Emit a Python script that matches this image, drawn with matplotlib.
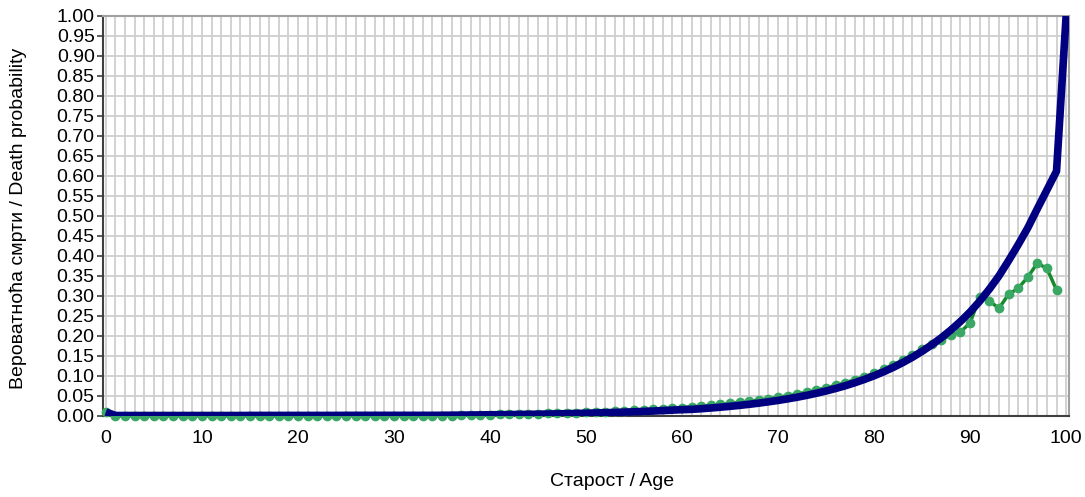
import numpy as np
import matplotlib.pyplot as plt
from matplotlib.ticker import MultipleLocator

plt.rcParams['font.family'] = ['Liberation Sans Narrow', 'Liberation Sans', 'DejaVu Sans']

# ages 0..100
ages = list(range(0, 101))

# fitted death probability (blue)
fitted = ([0.010]
          + [0.0012] * 14            # 1-14
          + [0.0014] * 10            # 15-24
          + [0.0016] * 10            # 25-34
          + [0.0018, 0.0020, 0.0022, 0.0024, 0.0027]   # 35-39
          + [0.0030, 0.0032, 0.0035, 0.0038, 0.0041, 0.0045, 0.0049, 0.0053, 0.0058, 0.0063,   # 40-49
             0.0069, 0.0075, 0.0082, 0.0089, 0.0097, 0.0105, 0.0114, 0.0124, 0.0135, 0.0147,   # 50-59
             0.0158, 0.0166, 0.0182, 0.0200, 0.0220, 0.0242, 0.0266, 0.0293, 0.0322, 0.0354,   # 60-69
             0.0389, 0.0428, 0.0470, 0.0517, 0.0569, 0.0625, 0.0688, 0.0756, 0.0832, 0.0915,   # 70-79
             0.1006, 0.1106, 0.1216, 0.1337, 0.1470, 0.1617, 0.1778, 0.1955, 0.2150, 0.2364,   # 80-89
             0.2600, 0.2870, 0.3170, 0.3500, 0.3880, 0.4280, 0.4700, 0.5180, 0.5650, 0.6120,   # 90-99
             1.0000])

# observed death probability (green), ages 0..99
observed = ([0.010]
            + [0.0003] * 19          # 1-19
            + [0.0006] * 15          # 20-34
            + [0.0010, 0.0012, 0.0015, 0.0020, 0.0028]   # 35-39
            + [0.0035, 0.0040, 0.0045, 0.0050, 0.0055, 0.0060, 0.0066, 0.0072, 0.0079, 0.0086,   # 40-49
               0.0094, 0.0102, 0.0111, 0.0120, 0.0131, 0.0142, 0.0154, 0.0167, 0.0181, 0.0196,   # 50-59
               0.0212, 0.0229, 0.0247, 0.0268, 0.0289, 0.0313, 0.0340, 0.0368, 0.0399, 0.0432,   # 60-69
               0.0468, 0.0508, 0.0552, 0.0599, 0.0650, 0.0705, 0.0766, 0.0833, 0.0905, 0.0985,   # 70-79
               0.1065, 0.1165, 0.1280, 0.1400, 0.1520, 0.1670, 0.1810, 0.1900, 0.2030, 0.2100,   # 80-89
               0.2330, 0.2970, 0.2880, 0.2690, 0.3040, 0.3190, 0.3470, 0.3820, 0.3690, 0.3150])  # 90-99

fig = plt.figure(figsize=(10.85, 4.97), dpi=100)
ax = fig.add_axes([103 / 1085, 1 - 416 / 497, 966 / 1085, 400 / 497])

ax.plot(ages[:100], observed, color='#178a2a', lw=2.5, marker='o', ms=6,
        mfc='#3aa864', mec='#3aa864', clip_on=False, zorder=3)
ax.plot(ages, fitted, color='#000080', lw=5.5, solid_capstyle='butt', zorder=4)

ax.set_xlim(-0.3, 100.3)
ax.set_ylim(0, 1.0)
ax.xaxis.set_major_locator(MultipleLocator(10))
ax.xaxis.set_minor_locator(MultipleLocator(1))
ax.yaxis.set_major_locator(MultipleLocator(0.05))
ax.yaxis.set_major_formatter(lambda v, p: f'{v:.2f}')

ax.grid(True, which='major', color='#cfcfcf', lw=1.3)
ax.grid(True, which='minor', axis='x', color='#cfcfcf', lw=1.3)
ax.set_axisbelow(True)

ax.tick_params(axis='y', which='major', length=4, width=1.2, color='#404040',
               labelsize=14, pad=2)
ax.tick_params(axis='x', which='both', length=0, labelsize=14, pad=10)

for s in ['left', 'bottom']:
    ax.spines[s].set_color('#404040')
    ax.spines[s].set_linewidth(1.5)
for s in ['top', 'right']:
    ax.spines[s].set_color('#a0a0a0')
    ax.spines[s].set_linewidth(1.5)

fig.text(18 / 1085, 1 - 218 / 497, 'Вероватноћа смрти / Death probability',
         rotation=90, ha='center', va='center', fontsize=14)
fig.text(612 / 1085, 1 - 481 / 497, 'Старост / Age', ha='center', va='center',
         fontsize=14)

fig.savefig('out.png', dpi=100)
